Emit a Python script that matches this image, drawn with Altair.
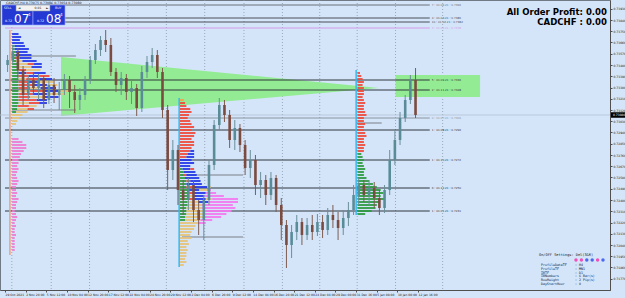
import altair as alt
import pandas as pd

# ---------------- data ----------------
date_labels = ["29 Oct 2021", "2 Nov 20:00", "5 Nov 12:00", "10 Nov 04:00", "12 Nov 20:00",
               "17 Nov 12:00", "22 Nov 04:00", "24 Nov 20:00", "29 Nov 12:00", "2 Dec 04:00",
               "6 Dec 20:00", "9 Dec 12:00", "14 Dec 04:00", "16 Dec 20:00", "21 Dec 12:00",
               "24 Dec 04:00", "29 Dec 00:00", "31 Dec 16:00", "5 Jan 08:00", "10 Jan 00:00",
               "12 Jan 16:00"]
label_bars = [0, 16, 32, 48, 64, 80, 96, 112, 128, 144, 160, 176, 192, 208, 224, 240, 256,
              272, 288, 304, 320]
price_ticks = [0.7393, 0.7384, 0.7375, 0.7366, 0.7357, 0.7348, 0.7339, 0.7330, 0.7321, 0.7312,
               0.7303, 0.7294, 0.7285, 0.7276, 0.7267, 0.7258, 0.7249, 0.7240, 0.7231, 0.7222,
               0.7213, 0.7204, 0.7195, 0.7186, 0.7177]

candle_bar = list(range(2, 320, 4))
opens = [0.73480, 0.73520, 0.73584, 0.73440, 0.73240, 0.73360, 0.73296, 0.73376, 0.73200, 0.73320,
         0.73240, 0.73280, 0.73360, 0.73264, 0.73200, 0.73240, 0.73360, 0.73520, 0.73600, 0.73680,
         0.73640, 0.73424, 0.73320, 0.73376, 0.73264, 0.73296, 0.73136, 0.73424, 0.73504, 0.73560,
         0.73424, 0.73120, 0.72640, 0.72800, 0.72480, 0.72400, 0.72520, 0.72320, 0.72240, 0.72400,
         0.72680, 0.73000, 0.73160, 0.73080, 0.72880, 0.72976, 0.72840, 0.72656, 0.72720, 0.72520,
         0.72560, 0.72440, 0.72576, 0.72360, 0.72200, 0.72040, 0.72144, 0.72224, 0.72120, 0.72200,
         0.72144, 0.72224, 0.72160, 0.72280, 0.72240, 0.72176, 0.72256, 0.72320, 0.72440, 0.72520,
         0.72440, 0.72496, 0.72416, 0.72336, 0.72480, 0.72720, 0.72880, 0.73056, 0.73200, 0.73360]
closes = [0.73520, 0.73584, 0.73440, 0.73240, 0.73360, 0.73296, 0.73376, 0.73200, 0.73320, 0.73240,
          0.73280, 0.73360, 0.73264, 0.73200, 0.73240, 0.73360, 0.73520, 0.73600, 0.73680, 0.73640,
          0.73424, 0.73320, 0.73376, 0.73264, 0.73296, 0.73136, 0.73424, 0.73504, 0.73560, 0.73424,
          0.73120, 0.72640, 0.72800, 0.72480, 0.72400, 0.72520, 0.72320, 0.72240, 0.72400, 0.72680,
          0.73000, 0.73160, 0.73080, 0.72880, 0.72976, 0.72840, 0.72656, 0.72720, 0.72520, 0.72560,
          0.72440, 0.72576, 0.72360, 0.72200, 0.72040, 0.72144, 0.72224, 0.72120, 0.72200, 0.72144,
          0.72224, 0.72160, 0.72280, 0.72240, 0.72176, 0.72256, 0.72320, 0.72440, 0.72520, 0.72440,
          0.72496, 0.72416, 0.72336, 0.72480, 0.72720, 0.72880, 0.73056, 0.73200, 0.73360, 0.73080]
highs = [0.73560, 0.73640, 0.73616, 0.73472, 0.73400, 0.73424, 0.73408, 0.73392, 0.73360, 0.73376,
         0.73344, 0.73408, 0.73392, 0.73320, 0.73296, 0.73392, 0.73552, 0.73648, 0.73712, 0.73760,
         0.73696, 0.73456, 0.73424, 0.73408, 0.73360, 0.73328, 0.73472, 0.73552, 0.73616, 0.73600,
         0.73456, 0.73160, 0.72880, 0.72840, 0.72560, 0.72576, 0.72560, 0.72400, 0.72440, 0.72720,
         0.73040, 0.73216, 0.73200, 0.73120, 0.73040, 0.73008, 0.72880, 0.72800, 0.72760, 0.72624,
         0.72600, 0.72624, 0.72600, 0.72416, 0.72240, 0.72200, 0.72280, 0.72256, 0.72256, 0.72280,
         0.72288, 0.72280, 0.72336, 0.72360, 0.72304, 0.72320, 0.72384, 0.72520, 0.72576, 0.72560,
         0.72560, 0.72544, 0.72480, 0.72520, 0.72800, 0.72960, 0.73104, 0.73240, 0.73400, 0.73456]
lows = [0.73424, 0.73488, 0.73376, 0.73160, 0.73200, 0.73240, 0.73200, 0.73136, 0.73168, 0.73176,
        0.73120, 0.73240, 0.73136, 0.73096, 0.73120, 0.73200, 0.73328, 0.73488, 0.73552, 0.73584,
        0.73392, 0.73264, 0.73240, 0.73200, 0.73168, 0.73072, 0.73104, 0.73376, 0.73456, 0.73376,
        0.73056, 0.72480, 0.72560, 0.72360, 0.72280, 0.72320, 0.72224, 0.72120, 0.72080, 0.72360,
        0.72640, 0.72960, 0.73024, 0.72816, 0.72800, 0.72784, 0.72600, 0.72576, 0.72440, 0.72416,
        0.72360, 0.72400, 0.72304, 0.72080, 0.71856, 0.71936, 0.72080, 0.72040, 0.72080, 0.72080,
        0.72112, 0.72096, 0.72120, 0.72176, 0.72080, 0.72120, 0.72192, 0.72280, 0.72360, 0.72384,
        0.72360, 0.72336, 0.72280, 0.72296, 0.72440, 0.72680, 0.72840, 0.73024, 0.73168, 0.73056]

level_price = [0.73960, 0.73856, 0.73824, 0.73776, 0.73360, 0.73280, 0.73056, 0.72960,
               0.72720, 0.72496, 0.72312]
level_text = ["7 : 01.06.21 : 0.7396", "4 : 01.03.21 : 0.7386", "10 : 01.02.21 : 0.7382",
              "3 : 01.06.21 : 0.7378", "5 : 01.09.21 : 0.7336", "2 : 01.11.21 : 0.7328",
              "0 : 01.07.21 : 0.7306", "1 : 01.08.21 : 0.7296", "1 : 01.10.21 : 0.7272",
              "6 : 01.12.21 : 0.7250", "1 : 01.01.21 : 0.7231"]
level_color = ["#6a7078", "#4a5058", "#4a5058", "#d49ae8", "#30363c", "#30363c", "#8a949e",
               "#30363c", "#30363c", "#30363c", "#30363c"]
level_end_bar = 329
level_label_bar = 330.5

va_start = [5.3, 5.3, 137.1, 137.1, 272.0]
va_end = [54.9, 54.9, 184.4, 184.4, 291.8]
va_price = [0.73552, 0.73120, 0.72600, 0.72104, 0.73016]

grid_bars = [5.3, 35.8, 65.5, 95.2, 125.0, 154.7, 185.1, 214.9, 243.8, 272.8, 302.5, 339.0]

tri_bar = [43.4, 289.5]
tri_hi = [0.73544, 0.73296]
tri_lo = [0.73072, 0.73296]

box_bar = [302.5, 368.0]
box_price = [0.73400, 0.73224]

current_price = 0.73080

# market profiles (rows of TPO segments: colour letter + length in bars)
p1_rows = ["B5", "B7", "B6", "B9", "G2 B8", "G2 B11", "G3 B9", "G3 B12", "G3 R3 B9", "G3 Y5 B11",
           "G4 Y8 R5 B6", "G4 Y11 B8", "G5 R6 Y11", "G5 B6 R6 B9", "G5 R8 B8 R8", "G5 Y6 R9 B11",
           "G5 R8 B8 Y11", "G5 R11 B11 Y8", "G5 R9 Y8 B12", "G5 Y9 R11 B11 Y8", "G5 R11 B11 Y15",
           "G5 R9 Y11 B11", "G5 R14 B8", "G5 Y8 R8 B6", "G4 R9 Y6", "G4 Y8 R5", "G3 Y9", "Y8",
           "Y6", "Y4", "Y3"]
p1b_rows = ["P5", "P8", "P11", "P11", "P9", "P7", "P6", "P5", "P5", "P4", "P5", "P4", "P3", "P4",
            "P5", "P4", "P3", "P3", "P4", "P3", "P5", "P4", "P3", "P3", "P2", "P3", "P4", "P3",
            "P2", "P3", "P2", "P2", "P3", "P2", "P2", "P2", "P2", "P2"]
p2_rows = ["O3", "R4", "R5", "R8", "R9", "R7", "R6", "R8", "R9", "R11", "R9", "R12", "R11", "R9",
           "R11", "R11", "R9", "R8 B3", "R6 B5", "R5 B6", "B9", "B11", "B8", "G2 B6 R3", "G3 B9",
           "G3 R2 B8", "G4 B11", "G5 R3 B8", "G5 B12", "G5 R5 B11 Y3", "G6 B9 Y6 M3",
           "G6 R5 B9 M8", "G6 Y5 B8 M15", "G6 R5 B9 Y5 M20", "G6 Y8 B8 M23", "G6 Y11 M24",
           "G5 Y12 M26", "G5 Y15 M20", "G5 Y14 M17", "G4 Y14 M14", "G4 Y12 M9", "Y14 M6", "Y12",
           "Y11", "Y9", "Y8", "Y9", "Y6", "Y7", "Y5", "Y6", "Y5", "Y5", "Y4", "Y5", "Y3"]
p3_rows = ["R2", "R3", "R4", "R5", "R4", "R5", "R5", "R5", "R4", "R5", "R6", "R5", "R5", "R6", "R7",
           "R5", "R5", "R6", "R5", "R5", "R6", "R7", "R5", "R5", "R6", "R5", "R5", "G3", "G4", "G5",
           "G4", "G5", "G6", "G5", "G5", "G7", "G9", "G12", "G15", "G18", "G20", "G18", "G21",
           "G17", "G15", "G14", "G11", "G6"]
profile_base = [5.5, 5.5, 135.5, 273.0]
profile_top = [0.73736, 0.72896, 0.73208, 0.73424]
profile_row_step = 0.00024
profile_row_h = 0.00016

stem_bar = [3.8, 134.9, 272.0]
stem_hi = [0.73760, 0.73216, 0.73440]
stem_lo = [0.71960, 0.71864, 0.72280]
stem_color = ["#f0a080", "#35b8f0", "#35b8f0"]

settings_keys = ["ProfileDataTF", "ProfileTF", "IBTF", "IBNumbers", "RowHeight", "DayStartHour"]
settings_vals = [": H4", ": MN1", ": D1", ": 6 Bar(s)", ": 2 Pip(s)", ": 0"]
settings_dots = ["#f050b8", "#f050b8", "#4a68f0", "#4a68f0", "#f050b8", "#4a68f0"]

# ---------------- styling ----------------
BG = "#d4e5fa"
COL = {"B": "#2436e8", "R": "#f04a3a", "G": "#2e9a40", "Y": "#e6c27a", "M": "#f478f0",
       "O": "#f5a04a", "P": "#f07ad0"}
xs = alt.Scale(domain=[0, 464.76], nice=False, zero=False)
ys = alt.Scale(domain=[0.7168, 0.7400], nice=False, zero=False)
label_js = "[" + ",".join("'" + s + "'" for s in date_labels) + "]"
xaxis = alt.Axis(values=label_bars, labelExpr=label_js + "[round(datum.value/16)]", title=None,
                 grid=False, orient="bottom", labelFontSize=3, labelAlign="left", labelPadding=1,
                 tickSize=2, labelColor="#202020", domainColor="#505050", tickColor="#505050",
                 labelFont="DejaVu Sans", labelOverlap=False, labelFlush=False, labelBound=False)
yaxis = alt.Axis(values=price_ticks, format=".5f", orient="right", title=None, grid=False,
                 labelFontSize=3, tickSize=2, labelPadding=1, labelColor="#202020",
                 domainColor="#505050", tickColor="#505050", labelFont="DejaVu Sans",
                 labelOverlap=False, labelFlush=False, labelBound=False)


def X(f):
    return alt.X(f, type="quantitative", scale=xs, axis=xaxis)


def Y(f):
    return alt.Y(f, type="quantitative", scale=ys, axis=yaxis)


layers = []

# grid
grid = alt.Chart(pd.DataFrame({"x": grid_bars})).mark_rule(
    color="#8a98a8", strokeDash=[1, 2], strokeWidth=0.8).encode(
    x=X("x"), y=alt.value(0), y2=alt.value(290))
layers.append(grid)

# green triangle and box
tri = alt.Chart(pd.DataFrame({"x": tri_bar, "hi": tri_hi, "lo": tri_lo})).mark_area(
    color="#93ec93", opacity=1).encode(x=X("x"), y=Y("hi"), y2="lo")
layers.append(tri)
box = alt.Chart(pd.DataFrame({"x1": [box_bar[0]], "x2": [box_bar[1]], "y1": [box_price[0]],
                              "y2": [box_price[1]]})).mark_rect(color="#93ec93").encode(
    x=X("x1"), x2="x2", y=Y("y1"), y2="y2")
layers.append(box)

# current price line
cur = alt.Chart(pd.DataFrame({"p": [current_price]})).mark_rule(
    color="#b4c2d2", strokeWidth=0.8).encode(x=alt.value(0), x2=alt.value(610), y=Y("p"))
layers.append(cur)

# level lines
lv = pd.DataFrame({"p": level_price, "t": level_text, "c": level_color,
                   "x1": [0] * len(level_price), "x2": [level_end_bar] * len(level_price),
                   "xl": [level_label_bar] * len(level_price)})
layers.append(alt.Chart(lv).mark_rule(strokeWidth=1).encode(
    x=X("x1"), x2="x2", y=Y("p"), color=alt.Color("c:N", scale=None)))

# value-area lines
layers.append(alt.Chart(pd.DataFrame({"a": va_start, "b": va_end, "p": va_price})).mark_rule(
    color="#7a7f86", strokeWidth=1).encode(x=X("a"), x2="b", y=Y("p")))

# profiles
recs = []
for rows, base, top in zip([p1_rows, p1b_rows, p2_rows, p3_rows], profile_base, profile_top):
    for j, r in enumerate(rows):
        lvl = top - j * profile_row_step
        x = base
        for tok in r.split():
            n = float(tok[1:])
            recs.append({"x1": x, "x2": x + n, "y1": lvl, "y2": lvl - profile_row_h,
                         "c": COL[tok[0]]})
            x += n
layers.append(alt.Chart(pd.DataFrame(recs)).mark_rect(opacity=0.9).encode(
    x=X("x1"), x2="x2", y=Y("y1"), y2="y2", color=alt.Color("c:N", scale=None)))

layers.append(alt.Chart(pd.DataFrame({"x": stem_bar, "a": stem_hi, "b": stem_lo,
                                      "c": stem_color})).mark_rule(strokeWidth=1.5).encode(
    x=X("x"), y=Y("a"), y2="b", color=alt.Color("c:N", scale=None)))

# candles
cd = pd.DataFrame({"x": candle_bar, "o": opens, "h": highs, "l": lows, "c": closes})
cd["wc"] = ["#6a8e98" if c >= o else "#7e5c50" for o, c in zip(opens, closes)]
cd["bc"] = ["#5a8c98" if c >= o else "#7b4b3f" for o, c in zip(opens, closes)]
layers.append(alt.Chart(cd).mark_rule(strokeWidth=1).encode(
    x=X("x"), y=Y("l"), y2="h", color=alt.Color("wc:N", scale=None)))
layers.append(alt.Chart(cd).mark_bar(size=2.6).encode(
    x=X("x"), y=Y("o"), y2="c", color=alt.Color("bc:N", scale=None)))

# level labels
layers.append(alt.Chart(lv).mark_text(fontSize=2.8, align="left", baseline="middle",
                                      font="DejaVu Sans").encode(
    x=X("xl"), y=Y("p"), text="t:N", color=alt.Color("c:N", scale=None)))

# current price tag on axis
tag = pd.DataFrame({"p": [current_price], "t": ["%.5f" % current_price],
                    "a": [current_price + 0.00022], "b": [current_price - 0.00022]})
layers.append(alt.Chart(tag).mark_rect(color="#000000", clip=False).encode(
    x=alt.value(611), x2=alt.value(625), y=Y("a"), y2="b"))
layers.append(alt.Chart(tag).mark_text(color="white", fontSize=3, align="left", baseline="middle",
                                       font="DejaVu Sans", clip=False).encode(
    x=alt.value(613), y=Y("p"), text="t:N"))


def txt(s, x, y, size, color="#000000", align="left", weight="normal", font="DejaVu Sans",
        baseline="middle"):
    return alt.Chart(pd.DataFrame({"t": [s]})).mark_text(
        fontSize=size, color=color, align=align, fontWeight=weight, font=font,
        baseline=baseline).encode(x=alt.value(x), y=alt.value(y), text="t:N")


def box_px(x1, y1, x2, y2, fill, stroke):
    return alt.Chart(pd.DataFrame({"a": [0]})).mark_rect(
        color=fill, stroke=stroke, strokeWidth=0.6).encode(
        x=alt.value(x1), x2=alt.value(x2), y=alt.value(y1), y2=alt.value(y2))


# title bar
layers.append(txt("CADCHF,H4  0.73075 0.73086 0.73054 0.73080", 6, 3, 3.2, "#202020"))
# trade panel
layers.append(box_px(2, 5, 33, 25, "#2438d4", "#9aa6ff"))
layers.append(box_px(33, 5, 65, 25, "#2438d4", "#9aa6ff"))
layers.append(box_px(16, 5, 50, 11, "#f2f2f2", "#8090a0"))
layers.append(txt("SELL", 4, 8.2, 3.2, "white"))
layers.append(txt("BUY", 55, 8.2, 3.2, "white"))
layers.append(txt("◄", 18, 8.2, 3.2, "#303030"))
layers.append(txt("0.01", 38, 8.2, 3.2, "#202020", align="center"))
layers.append(txt("►", 46, 8.2, 3.2, "#303030"))
layers.append(txt("0.72", 5, 21, 3.2, "white"))
layers.append(txt("07", 14, 19, 12, "white"))
layers.append(txt("4", 28, 14.5, 4, "white"))
layers.append(txt("0.72", 37, 21, 3.2, "white"))
layers.append(txt("08", 46, 19, 12, "white"))
layers.append(txt("4", 60, 14.5, 4, "white"))

# profit texts
bigfont = "Liberation Sans Narrow, DejaVu Sans Condensed, Roboto Condensed, Liberation Sans"
layers.append(txt("All Order Profit: 0.00", 607, 12, 9.5, "#000000", align="right", weight="bold",
                  font=bigfont))
layers.append(txt("CADCHF : 0.00", 607, 22, 9.5, "#000000", align="right", weight="bold",
                  font=bigfont))

# settings panel
mono = "DejaVu Sans Mono"
layers.append(txt("On/OFF Settings: Del(3&R)", 539, 255, 3.6, "#202020", font=mono))
for k, c in enumerate(settings_dots):
    layers.append(alt.Chart(pd.DataFrame({"a": [0]})).mark_point(
        filled=True, color=c, size=12, opacity=1, shape="circle").encode(
        x=alt.value(576 + k * 5.4), y=alt.value(260)))
for k, (key, val) in enumerate(zip(settings_keys, settings_vals)):
    yy = 265 + k * 3.8
    layers.append(txt(key, 541, yy, 3.3, "#202020", font=mono))
    layers.append(txt(val, 575, yy, 3.3, "#202020", font=mono))

chart = alt.layer(*layers).properties(
    width=610, height=290,
    padding={"left": 0, "top": 0, "right": 15, "bottom": 8},
    autosize=alt.AutoSizeParams(type="none"),
    background=BG,
).configure_view(fill=BG, stroke="#707a84", strokeWidth=1)

chart.save("out.html", embed_options={"renderer": "svg", "actions": False})
